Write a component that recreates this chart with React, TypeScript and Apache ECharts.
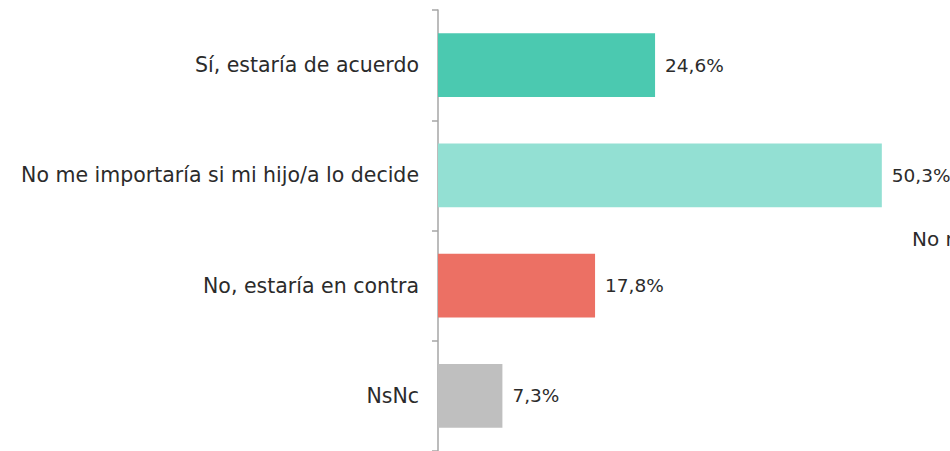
import React, { useEffect, useRef } from "react";
import * as echarts from "echarts";

const categories = [
  "Sí, estaría de acuerdo",
  "No me importaría si mi hijo/a lo decide",
  "No, estaría en contra",
  "NsNc",
];
const values = [24.6, 50.3, 17.8, 7.3];
const colors = ["#4BC9B0", "#93E0D3", "#EC7064", "#BFBFBF"];
const legendText = "No me importaría si mi hijo/a lo decide";

export default function App() {
  const ref = useRef<HTMLDivElement>(null);
  useEffect(() => {
    document.body.style.margin = "0";
    const chart = echarts.init(ref.current!, undefined, { renderer: "svg" });
    const font = "'DejaVu Sans', sans-serif";
    chart.setOption({
      animation: false,
      grid: { left: 438, right: 2, top: 10, height: 443 },
      xAxis: { type: "value", min: 0, max: 57.8, show: false },
      yAxis: {
        type: "category",
        data: categories,
        inverse: true,
        axisLine: { show: true, lineStyle: { color: "#A6A6A6", width: 1.5 } },
        axisTick: { show: true, length: 6, lineStyle: { color: "#A6A6A6", width: 1.5 } },
        axisLabel: { color: "#2B2B2B", fontSize: 20.5, fontFamily: font, margin: 19 },
      },
      series: [
        {
          type: "bar",
          data: values.map((v, i) => ({ value: v, itemStyle: { color: colors[i] } })),
          barCategoryGap: "42%",
          label: {
            show: true,
            position: "right",
            distance: 10,
            color: "#2B2B2B",
            fontSize: 18.5,
            fontFamily: font,
            formatter: (p: any) => String(p.value).replace(".", ",") + "%",
          },
        },
      ],
      graphic: [
        {
          type: "text",
          left: 912,
          top: 229,
          style: { text: legendText, fill: "#2B2B2B", fontSize: 20, fontFamily: font },
        },
      ],
    });
    return () => chart.dispose();
  }, []);
  return <div ref={ref} style={{ position: "absolute", left: 0, top: 0, width: 950, height: 451 }} />;
}
